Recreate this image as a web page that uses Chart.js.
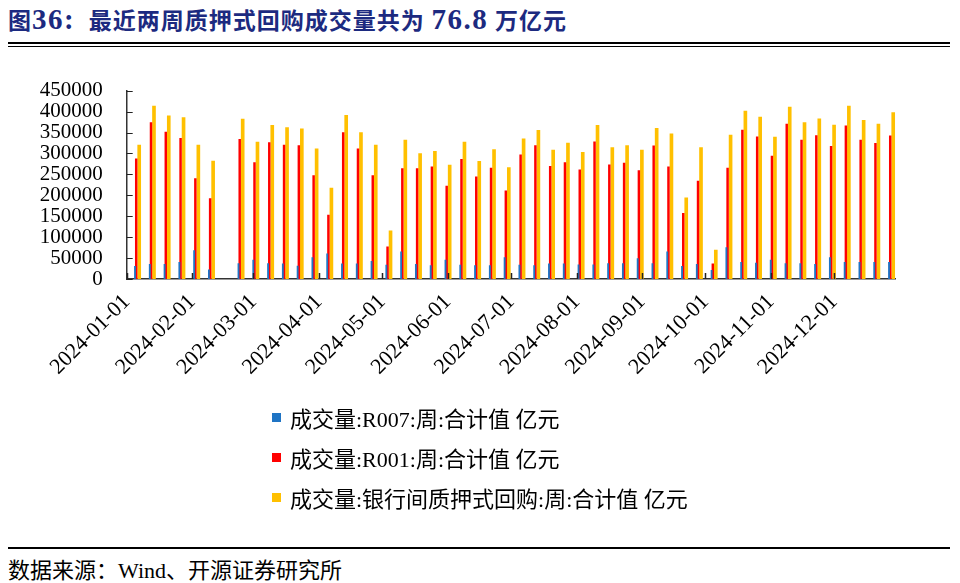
<!DOCTYPE html>
<html>
<head>
<meta charset="utf-8">
<script src="https://cdn.jsdelivr.net/npm/chart.js@4.4.1/dist/chart.umd.min.js"></script>
<style>
  body { margin: 0; background: #fff; width: 960px; height: 583px; position: relative; overflow: hidden;
         font-family: "Liberation Serif", "Noto Sans CJK SC", serif; }
  #title { position: absolute; left: 8px; top: 2px; font-size: 23px; font-weight: bold; color: #1c2a80; letter-spacing: 1px; white-space: nowrap; }
  #title .lat { font-size: 29px; letter-spacing: 1.5px; }
  .rule { position: absolute; left: 8px; right: 10px; background: #000; }
  #wrap { position: absolute; left: 0; top: 60px; width: 960px; height: 340px; }
  #legend { position: absolute; left: 272px; top: 397px; }
  .item { display: flex; align-items: center; height: 40px; font-size: 22px; color: #000; white-space: nowrap; }
  .box { width: 9px; height: 9px; margin-right: 9px; }
  #source { position: absolute; left: 8px; top: 552px; font-size: 22px; color: #000; white-space: nowrap; }
</style>
</head>
<body>
<div id="title">图<span class="lat">36:</span>&nbsp; 最近两周质押式回购成交量共为 <span class="lat">76.8</span> 万亿元</div>
<div class="rule" style="top:42px;height:2px"></div>
<div class="rule" style="top:46px;height:1px"></div>
<div id="wrap"><canvas id="myChart" width="960" height="340"></canvas></div>
<div id="legend"></div>
<div class="rule" style="top:547px;height:2px"></div>
<div id="source">数据来源：Wind、开源证券研究所</div>

<script>
// weekly dates (Friday); the Spring Festival week has no data
const weekDates = [
    "2024-01-05", "2024-01-12", "2024-01-19", "2024-01-26", "2024-02-02", "2024-02-09", "2024-02-16",
    "2024-02-23", "2024-03-01", "2024-03-08", "2024-03-15", "2024-03-22", "2024-03-29", "2024-04-05",
    "2024-04-12", "2024-04-19", "2024-04-26", "2024-05-03", "2024-05-10", "2024-05-17", "2024-05-24",
    "2024-05-31", "2024-06-07", "2024-06-14", "2024-06-21", "2024-06-28", "2024-07-05", "2024-07-12",
    "2024-07-19", "2024-07-26", "2024-08-02", "2024-08-09", "2024-08-16", "2024-08-23", "2024-08-30",
    "2024-09-06", "2024-09-13", "2024-09-20", "2024-09-27", "2024-10-04", "2024-10-11", "2024-10-18",
    "2024-10-25", "2024-11-01", "2024-11-08", "2024-11-15", "2024-11-22", "2024-11-29", "2024-12-06",
    "2024-12-13", "2024-12-20", "2024-12-27"
];

// 成交量:R007 (亿元)
const r007 = [
    30000, 35000, 35000, 40000, 68000, 22000, null,
    37000, 45000, 37000, 36000, 31000, 51000, 60000,
    36000, 36000, 42000, 33000, 65000, 35000, 32000,
    45000, 33000, 32000, 32000, 51000, 33000, 32000,
    36000, 36000, 34000, 34000, 37000, 37000, 49000,
    37000, 65000, 30000, 35000, 21000, 75000, 40000,
    38000, 45000, 37000, 37000, 35000, 51000, 40000,
    40000, 40000, 40000
];

// 成交量:R001 (亿元)
const r001 = [
    287000, 374000, 351000, 336000, 240000, 192000, null,
    334000, 278000, 326000, 320000, 319000, 247000, 153000,
    350000, 311000, 247000, 77000, 264000, 264000, 268000,
    222000, 286000, 244000, 265000, 211000, 297000, 319000,
    269000, 278000, 261000, 328000, 273000, 277000, 259000,
    318000, 268000, 157000, 234000, 36000, 265000, 356000,
    340000, 294000, 370000, 332000, 343000, 317000, 366000,
    332000, 324000, 342000
];

// 成交量:银行间质押式回购 (亿元)
const interbank = [
    320000, 413000, 390000, 386000, 320000, 282000, null,
    382000, 327000, 367000, 362000, 359000, 311000, 217000,
    391000, 350000, 320000, 115000, 332000, 300000, 305000,
    272000, 327000, 281000, 309000, 266000, 335000, 355000,
    308000, 325000, 303000, 367000, 314000, 319000, 308000,
    360000, 347000, 194000, 314000, 69000, 344000, 401000,
    387000, 339000, 411000, 374000, 383000, 368000, 413000,
    379000, 370000, 398000
];

const monthTicks = [
    "2024-01-01", "2024-02-01", "2024-03-01", "2024-04-01", "2024-05-01", "2024-06-01",
    "2024-07-01", "2024-08-01", "2024-09-01", "2024-10-01", "2024-11-01", "2024-12-01"
];

const yTicks = [0, 50000, 100000, 150000, 200000, 250000, 300000, 350000, 400000, 450000];

const seriesNames = [
    "成交量:R007:周:合计值 亿元",
    "成交量:R001:周:合计值 亿元",
    "成交量:银行间质押式回购:周:合计值 亿元"
];
const seriesColors = ["#1f74c4", "#ff0000", "#ffc000"];
const seriesThickness = [1.2, 1.8, 3];

const dayOfYear = (s) => {
    const [yy, mm, dd] = s.split("-").map(Number);
    return (Date.UTC(yy, mm - 1, dd) - Date.UTC(2024, 0, 1)) / 86400000;
};

// bar sits in the middle of its day slot
const toPoints = (values) => weekDates.map((d, i) => ({ x: dayOfYear(d) + 0.5, y: values[i] }));

const monthDays = monthTicks.map(dayOfYear);

const tickMarks = {
    id: "tickMarks",
    afterDraw(chart) {
        const { ctx, chartArea, scales } = chart;
        ctx.save();
        ctx.strokeStyle = "#222";
        ctx.lineWidth = 1;
        ctx.beginPath();
        scales.y.ticks.forEach((t) => {
            const py = Math.round(scales.y.getPixelForValue(t.value)) + 0.5;
            ctx.moveTo(chartArea.left, py);
            ctx.lineTo(chartArea.left + 6, py);
        });
        ctx.stroke();
        ctx.lineWidth = 1.5;
        ctx.beginPath();
        scales.x.ticks.forEach((t) => {
            const px = Math.round(scales.x.getPixelForValue(t.value)) + 0.5;
            ctx.moveTo(px, chartArea.bottom);
            ctx.lineTo(px, chartArea.bottom - 6);
        });
        ctx.stroke();
        ctx.restore();
    }
};

const allSeries = [r007, r001, interbank];
const datasets = allSeries.map((values, i) => ({
    label: seriesNames[i],
    data: toPoints(values),
    backgroundColor: seriesColors[i],
    borderWidth: 0,
    barThickness: seriesThickness[i]
}));

const charter = document.querySelector("#myChart");
const myChart = new Chart(charter, {
    type: "bar",
    data: { datasets },
    options: {
        responsive: false,
        animation: false,
        layout: { padding: { top: 30.7, right: 64.5, left: 0, bottom: 0 } },
        plugins: { legend: { display: false }, tooltip: { enabled: false } },
        scales: {
            x: {
                type: "linear",
                min: 0,
                max: 364,
                offset: false,
                grid: { display: false },
                border: { display: true, color: "#333", width: 1.5 },
                afterBuildTicks: (scale) => {
                    scale.ticks = monthDays.map((v) => ({ value: v }));
                },
                afterFit: (scale) => { scale.height = 121; },
                ticks: {
                    autoSkip: false,
                    minRotation: 45,
                    maxRotation: 45,
                    padding: 2,
                    color: "#000",
                    font: { family: "Liberation Serif", size: 22 },
                    callback: (value, index) => monthTicks[index]
                }
            },
            y: {
                min: 0,
                max: 450000,
                grid: { display: false },
                border: { display: true, color: "#333", width: 1.5 },
                afterBuildTicks: (scale) => {
                    scale.ticks = yTicks.map((v) => ({ value: v }));
                },
                afterFit: (scale) => { scale.width = 126.7; },
                ticks: {
                    autoSkip: false,
                    padding: 16,
                    color: "#000",
                    font: { family: "Liberation Serif", size: 21 },
                    callback: (value) => String(value)
                }
            }
        }
    },
    plugins: [tickMarks]
});

// legend stacked one item per line, as in the source
const legendBox = document.querySelector("#legend");
myChart.data.datasets.forEach((ds) => {
    const item = document.createElement("div");
    item.className = "item";
    const box = document.createElement("span");
    box.className = "box";
    box.style.background = ds.backgroundColor;
    const txt = document.createElement("span");
    txt.textContent = ds.label;
    item.appendChild(box);
    item.appendChild(txt);
    legendBox.appendChild(item);
});
</script>
</body>
</html>
